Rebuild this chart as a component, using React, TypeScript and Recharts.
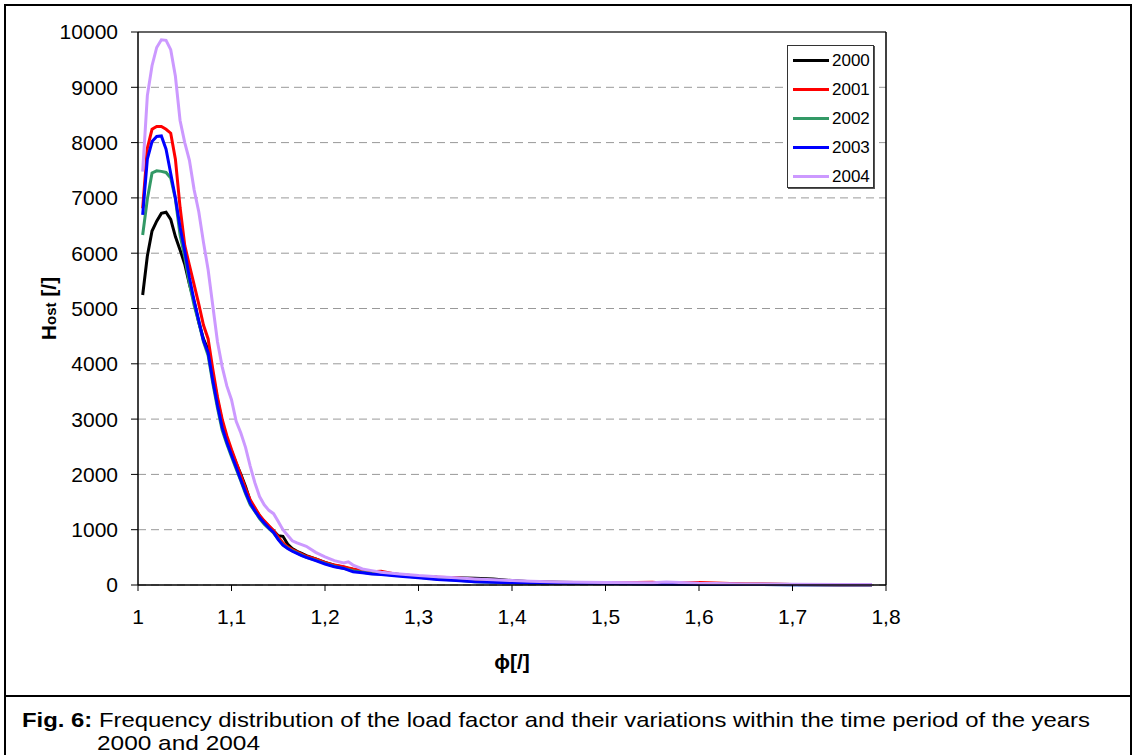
import { LineChart, Line, XAxis, YAxis, CartesianGrid, ReferenceLine, Legend, Label } from 'recharts'

// load factor classes (x) and frequency per year (y)
const PHI = [
  1.005, 1.01, 1.015, 1.02, 1.025, 1.03, 1.035, 1.04, 1.045, 1.05,
  1.055, 1.06, 1.065, 1.07, 1.075, 1.08, 1.085, 1.09, 1.095, 1.1,
  1.105, 1.11, 1.115, 1.12, 1.125, 1.13, 1.135, 1.14, 1.145, 1.15,
  1.155, 1.16, 1.165, 1.17, 1.175, 1.18, 1.19, 1.2, 1.21, 1.22,
  1.225, 1.23, 1.24, 1.25, 1.26, 1.28, 1.3, 1.32, 1.34, 1.36,
  1.38, 1.4, 1.42, 1.45, 1.5, 1.55, 1.565, 1.6, 1.65, 1.7,
  1.75, 1.785,
]

const H2000 = [
  5244, 5950, 6400, 6580, 6720, 6740, 6610, 6300, 6060, 5800,
  5440, 5130, 4750, 4450, 4250, 3800, 3350, 2950, 2650, 2420,
  2200, 2000, 1780, 1520, 1380, 1250, 1150, 1060, 980, 890,
  880, 740, 660, 610, 570, 530, 470, 410, 360, 320,
  300, 280, 250, 230, 220, 190, 160, 140, 130, 120,
  110, 80, 60, 50, 35, 25, 22, 20, 15, 10,
  5, 5,
]

const H2001 = [
  6812, 7900, 8240, 8290, 8290, 8240, 8170, 7700, 6830, 6140,
  5780, 5430, 5080, 4700, 4450, 3900, 3400, 3000, 2700, 2450,
  2220, 1980, 1750, 1540, 1400, 1260, 1160, 1070, 980, 870,
  760, 690, 640, 600, 560, 520, 470, 410, 360, 330,
  310, 290, 260, 240, 250, 180, 150, 140, 130, 100,
  80, 60, 50, 45, 35, 50, 30, 45, 20, 10,
  5, 5,
]

const H2002 = [
  6329, 6980, 7450, 7490, 7480, 7460, 7360, 6980, 6330, 5930,
  5450, 5060, 4750, 4400, 4150, 3650, 3200, 2800, 2550, 2320,
  2100, 1880, 1650, 1450, 1330, 1200, 1100, 1020, 940, 830,
  730, 670, 620, 580, 540, 500, 450, 390, 340, 300,
  280, 260, 230, 210, 200, 170, 140, 110, 90, 60,
  50, 40, 35, 30, 25, 20, 20, 15, 10, 5,
  5, 5,
]

const H2003 = [
  6691, 7700, 8020, 8110, 8120, 7880, 7440, 7000, 6470, 6040,
  5560, 5140, 4780, 4420, 4200, 3700, 3250, 2850, 2580, 2350,
  2130, 1900, 1680, 1480, 1340, 1220, 1120, 1030, 950, 820,
  720, 660, 610, 570, 530, 500, 440, 380, 330, 300,
  270, 240, 220, 200, 190, 160, 130, 100, 80, 60,
  50, 40, 35, 30, 25, 20, 20, 15, 10, 5,
  5, 5,
]

const H2004 = [
  7474, 8850, 9390, 9720, 9860, 9850, 9680, 9200, 8400, 8000,
  7680, 7150, 6750, 6200, 5700, 5050, 4400, 3950, 3600, 3350,
  2960, 2750, 2490, 2150, 1850, 1600, 1450, 1350, 1290, 1150,
  1000, 900, 800, 760, 730, 700, 590, 510, 440, 400,
  420, 360, 290, 260, 230, 200, 170, 150, 130, 110,
  95, 80, 70, 55, 45, 40, 55, 30, 20, 15,
  10, 10,
]

const SERIES = [
  { key: 'y2000', name: '2000', values: H2000, color: '#000000' },
  { key: 'y2001', name: '2001', values: H2001, color: '#ff0000' },
  { key: 'y2002', name: '2002', values: H2002, color: '#339966' },
  { key: 'y2003', name: '2003', values: H2003, color: '#0000ff' },
  { key: 'y2004', name: '2004', values: H2004, color: '#cc99ff' },
]

const X_TICKS = [1, 1.1, 1.2, 1.3, 1.4, 1.5, 1.6, 1.7, 1.8]
const Y_TICKS = [0, 1000, 2000, 3000, 4000, 5000, 6000, 7000, 8000, 9000, 10000]

const FONT = '"Liberation Sans", Arial, sans-serif'

const data = PHI.map((phi, i) => {
  const row: Record<string, number> = { phi }
  SERIES.forEach((s) => {
    row[s.key] = s.values[i]
  })
  return row
})

function LegendBox({ payload }: any) {
  return (
    <div
      style={{
        width: 87,
        height: 143,
        boxSizing: 'border-box',
        border: '1px solid #333',
        boxShadow: '1px 1px 0 #555',
        background: '#fff',
        fontFamily: FONT,
        fontSize: 17,
        color: '#000',
      }}
    >
      {(payload || []).map((p: any) => (
        <div key={p.value} style={{ height: 29, display: 'flex', alignItems: 'center' }}>
          <svg width={44} height={29} style={{ flexShrink: 0 }}>
            <line x1={5} x2={41} y1={14.5} y2={14.5} stroke={p.color} strokeWidth={3} />
          </svg>
          <span>{p.value}</span>
        </div>
      ))}
    </div>
  )
}

function YTitle({ viewBox }: any) {
  const x = 56
  const y = viewBox.y + viewBox.height / 2
  return (
    <text
      x={x}
      y={y}
      transform={`rotate(-90, ${x}, ${y})`}
      textAnchor="middle"
      fontFamily={FONT}
      fontWeight="bold"
      fill="#000"
    >
      <tspan fontSize={21}>H</tspan>
      <tspan fontSize={15}>ost</tspan>
      <tspan fontSize={21}> [/]</tspan>
    </text>
  )
}

function XTitle({ viewBox }: any) {
  return (
    <text
      x={viewBox.x + viewBox.width / 2}
      y={viewBox.y + 84}
      textAnchor="middle"
      fontFamily={FONT}
      fontWeight="bold"
      fontSize={21}
      fill="#000"
    >
      ϕ[/]
    </text>
  )
}

export default function App() {
  return (
    <div style={{ position: 'absolute', left: 0, top: 0, width: 1135, height: 755, overflow: 'hidden', background: '#fff', fontFamily: FONT }}>
      <div style={{ position: 'absolute', left: 4, top: 4, width: 1128, height: 800, border: '2px solid #000', boxSizing: 'border-box' }} />
      <div style={{ position: 'absolute', left: 4, top: 695, width: 1128, height: 2, background: '#000' }} />

      <div style={{ position: 'absolute', left: 0, top: 0 }}>
        <LineChart width={1135} height={700} data={data} margin={{ top: 32, right: 249, bottom: 55, left: 0 }}>
          <CartesianGrid vertical={false} stroke="#999" strokeDasharray="8 5" />
          <XAxis
            dataKey="phi"
            type="number"
            domain={[1, 1.8]}
            ticks={X_TICKS}
            tickFormatter={(v) => String(v).replace('.', ',')}
            height={60}
            tickSize={6}
            tickMargin={18}
            axisLine={{ stroke: '#000', strokeWidth: 1.5 }}
            tickLine={{ stroke: '#000' }}
            tick={{ fill: '#000', fontSize: 21, fontFamily: FONT }}
          >
            <Label content={<XTitle />} />
          </XAxis>
          <YAxis
            type="number"
            domain={[0, 10000]}
            ticks={Y_TICKS}
            width={138}
            tickSize={7}
            tickMargin={13}
            axisLine={{ stroke: '#000', strokeWidth: 1.5 }}
            tickLine={{ stroke: '#000' }}
            tick={{ fill: '#000', fontSize: 21, fontFamily: FONT }}
          >
            <Label content={<YTitle />} />
          </YAxis>
          <ReferenceLine y={10000} stroke="#666" strokeWidth={2} />
          <ReferenceLine x={1.8} stroke="#000" strokeWidth={1.5} />
          {SERIES.map((s) => (
            <Line
              key={s.key}
              dataKey={s.key}
              name={s.name}
              type="linear"
              stroke={s.color}
              strokeWidth={3}
              dot={false}
              activeDot={false}
              isAnimationActive={false}
            />
          ))}
          <Legend
            layout="horizontal"
            verticalAlign="middle"
            align="center"
            content={<LegendBox />}
            wrapperStyle={{ position: 'absolute', left: 787, top: 45, width: 87, height: 143 }}
          />
        </LineChart>
      </div>

      <svg style={{ position: 'absolute', left: 0, top: 0 }} width={1135} height={755}>
        <text x={22} y={727} fontFamily={FONT} fontSize={21} fill="#000" textLength={1068} lengthAdjust="spacingAndGlyphs">
          <tspan fontWeight="bold">Fig. 6:</tspan>
          <tspan> Frequency distribution of the load factor and their variations within the time period of the years</tspan>
        </text>
        <text x={97} y={750} fontFamily={FONT} fontSize={21} fill="#000" textLength={163} lengthAdjust="spacingAndGlyphs">
          2000 and 2004
        </text>
      </svg>
    </div>
  )
}
